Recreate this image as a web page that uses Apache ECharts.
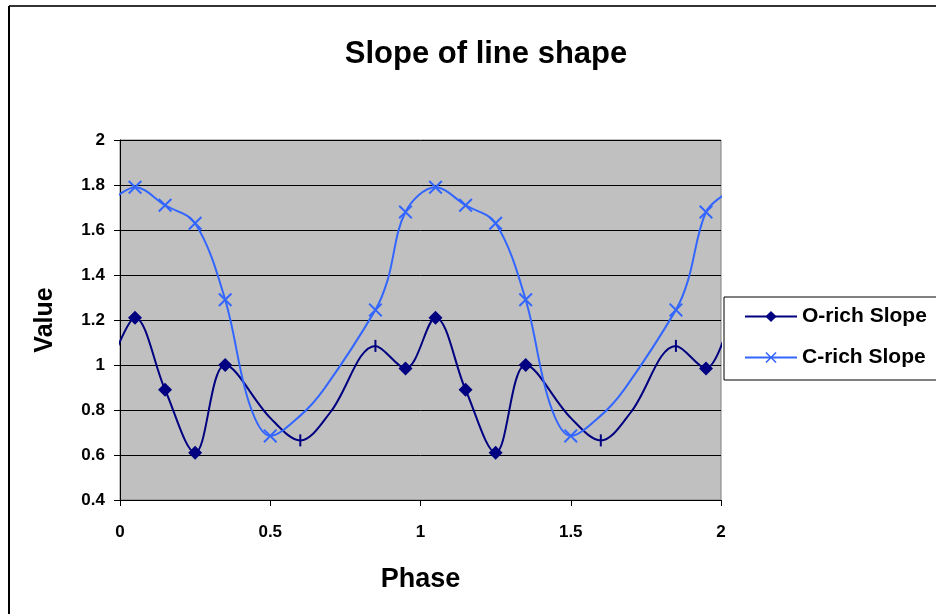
<!DOCTYPE html>
<html>
<head>
<meta charset="utf-8">
<script src="https://cdn.jsdelivr.net/npm/echarts@6/dist/echarts.min.js"></script>
<style>
html, body { margin: 0; padding: 0; background: #fff; }
#chart { width: 936px; height: 614px; }
</style>
</head>
<body>
<div id="chart"></div>
<script>
// phase / value (line runs slightly past both ends)
var oPhase = [-0.02, 0.05, 0.15, 0.25, 0.35, 0.5, 0.6, 0.7, 0.85, 0.95, 1.05, 1.15, 1.25, 1.35, 1.5, 1.6, 1.7, 1.85, 1.95, 2.02];
var oValue = [1.04, 1.21, 0.89, 0.61, 1.0, 0.765, 0.665, 0.79, 1.085, 0.985, 1.21, 0.89, 0.61, 1.0, 0.765, 0.665, 0.79, 1.085, 0.985, 1.16];
var oDiamondAt = [0.05, 0.15, 0.25, 0.35, 0.95, 1.05, 1.15, 1.25, 1.35, 1.95];
var oBarAt = [0.6, 0.85, 1.6, 1.85];

var cPhase = [-0.02, 0.05, 0.15, 0.25, 0.35, 0.43, 0.5, 0.6, 0.68, 0.85, 0.89, 0.95, 1.05, 1.15, 1.25, 1.35, 1.43, 1.5, 1.6, 1.68, 1.85, 1.89, 1.95, 2.02];
var cValue = [1.74, 1.79, 1.71, 1.63, 1.29, 0.83, 0.685, 0.775, 0.895, 1.245, 1.375, 1.68, 1.79, 1.71, 1.63, 1.29, 0.83, 0.685, 0.775, 0.895, 1.245, 1.375, 1.68, 1.765];
var cCrossAt = [0.05, 0.15, 0.25, 0.35, 0.5, 0.85, 0.95, 1.05, 1.15, 1.25, 1.35, 1.5, 1.85, 1.95];

var xTicks = [0, 0.5, 1, 1.5, 2];
var yTicks = [0.4, 0.6, 0.8, 1, 1.2, 1.4, 1.6, 1.8, 2];

var FONT = 'Liberation Sans, Arial, sans-serif';
var DIAMOND = 'diamond';
var CROSS = 'path://M0,1.2L1.2,0L6,4.8L10.8,0L12,1.2L7.2,6L12,10.8L10.8,12L6,7.2L1.2,12L0,10.8L4.8,6Z';
var BAR = 'path://M0,0L1,0L1,10L0,10Z';

function has(arr, v) {
    for (var i = 0; i < arr.length; i++) {
        if (Math.abs(arr[i] - v) < 1e-6) return true;
    }
    return false;
}

//O-rich: diamonds on some points, small bars on others
function buildO() {
    var out = [];
    for (var i = 0; i < oPhase.length; i++) {
        var p = {value: [oPhase[i], oValue[i]]};
        if (has(oDiamondAt, oPhase[i])) {
            p.symbol = DIAMOND; p.symbolSize = 14;
        } else if (has(oBarAt, oPhase[i])) {
            p.symbol = BAR; p.symbolSize = [2, 12];
        } else {
            p.symbol = 'none';
        }
        out.push(p);
    }
    return out;
}

//C-rich: crosses
function buildC() {
    var out = [];
    for (var i = 0; i < cPhase.length; i++) {
        var p = {value: [cPhase[i], cValue[i]]};
        if (has(cCrossAt, cPhase[i])) {
            p.symbol = CROSS; p.symbolSize = 14;
        } else {
            p.symbol = 'none';
        }
        out.push(p);
    }
    return out;
}

var myChart = echarts.init(document.getElementById('chart'));
var option = {
    backgroundColor: '#fff',
    animation: false,
    title: {
        text: 'Slope of line shape',
        left: 481,
        top: 34,
        textAlign: 'center',
        textStyle: {fontFamily: FONT, fontSize: 31, fontWeight: 'bold', color: '#000'}
    },
    graphic: [
        {type: 'line', shape: {x1: 9, y1: 6, x2: 936, y2: 6}, style: {stroke: '#333', lineWidth: 2}},
        {type: 'line', shape: {x1: 9, y1: 6, x2: 9, y2: 614}, style: {stroke: '#000', lineWidth: 2}}
    ],
    legend: {
        orient: 'vertical',
        left: 724,
        top: 297,
        padding: [9, 30, 12, 20],
        itemGap: 20,
        itemWidth: 52,
        itemHeight: 14,
        backgroundColor: '#fff',
        borderColor: '#000',
        borderWidth: 1,
        textStyle: {fontFamily: FONT, fontSize: 21, fontWeight: 'bold', color: '#000'},
        data: ['O-rich Slope', 'C-rich Slope']
    },
    grid: {
        left: 120,
        top: 140,
        right: 215,
        bottom: 114,
        show: true,
        backgroundColor: '#c0c0c0',
        borderColor: '#808080',
        borderWidth: 1
    },
    xAxis: {
        type: 'value',
        min: xTicks[0],
        max: xTicks[xTicks.length - 1],
        interval: 0.5,
        name: 'Phase',
        nameLocation: 'middle',
        nameGap: 66,
        nameTextStyle: {fontFamily: FONT, fontSize: 27, fontWeight: 'bold', color: '#000'},
        axisLine: {lineStyle: {color: '#000', width: 1}},
        axisTick: {show: true, inside: false, length: 6, lineStyle: {color: '#000'}},
        axisLabel: {fontFamily: FONT, fontSize: 17, fontWeight: 'bold', color: '#000', margin: 24},
        splitLine: {show: false}
    },
    yAxis: {
        type: 'value',
        min: yTicks[0],
        max: yTicks[yTicks.length - 1],
        interval: 0.2,
        name: 'Value',
        nameLocation: 'middle',
        nameGap: 62,
        nameTextStyle: {fontFamily: FONT, fontSize: 25, fontWeight: 'bold', color: '#000'},
        axisLine: {show: true, lineStyle: {color: '#000', width: 1}},
        axisTick: {show: true, inside: false, length: 6, lineStyle: {color: '#000'}},
        axisLabel: {fontFamily: FONT, fontSize: 17, fontWeight: 'bold', color: '#000', margin: 15},
        splitLine: {show: true, lineStyle: {color: '#000', width: 1}}
    },
    series: [
        {
            name: 'O-rich Slope',
            type: 'line',
            smooth: 0.35,
            clip: false,
            symbol: DIAMOND,
            symbolSize: 14,
            showAllSymbol: true,
            itemStyle: {color: '#000080'},
            lineStyle: {color: '#000080', width: 2},
            data: buildO()
        },
        {
            name: 'C-rich Slope',
            type: 'line',
            smooth: 0.35,
            clip: false,
            symbol: CROSS,
            symbolSize: 14,
            showAllSymbol: true,
            itemStyle: {color: '#3366ff'},
            lineStyle: {color: '#3366ff', width: 2},
            data: buildC()
        }
    ]
};
myChart.setOption(option, true);
</script>
</body>
</html>
